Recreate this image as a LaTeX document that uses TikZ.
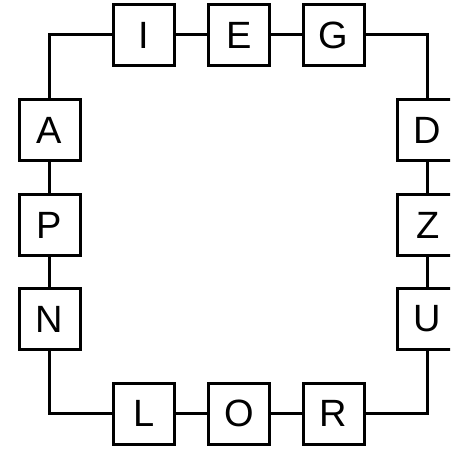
\documentclass[tikz,border=0pt]{standalone}
\usepackage{fontspec}
\setmainfont{Liberation Sans}
\usepackage{tikz}

\tikzset{letterbox/.style={draw, line width=3pt, minimum size=61pt, inner sep=0pt, font=\fontsize{38}{45}\selectfont}}

\begin{document}
\begin{tikzpicture}[x=1pt,y=-1pt, line width=3pt]
\useasboundingbox (0,0) rectangle (450,452);
\clip (0,0) rectangle (450,452);
\node[letterbox] (I) at (144,35) {I};
\node[letterbox] (E) at (239,35) {E};
\node[letterbox] (G) at (333.5,35) {G};
\node[letterbox] (A) at (49.5,130) {A};
\node[letterbox] (P) at (49.5,225) {P};
\node[letterbox] (N) at (49.5,319) {N};
\node[letterbox] (D) at (427.7,130) {D};
\node[letterbox] (Z) at (427.7,225) {Z};
\node[letterbox] (U) at (427.7,319) {U};
\node[letterbox] (L) at (144,413.7) {L};
\node[letterbox] (O) at (239,413.7) {O};
\node[letterbox] (R) at (333.5,413.7) {R};
\draw (I) -| (A);
\draw (A) -- (P);
\draw (P) -- (N);
\draw (N) |- (L);
\draw (L) -- (O);
\draw (O) -- (R);
\draw (R) -| (U);
\draw (U) -- (Z);
\draw (Z) -- (D);
\draw (D) |- (G);
\draw (G) -- (E);
\draw (E) -- (I);
\end{tikzpicture}
\end{document}
